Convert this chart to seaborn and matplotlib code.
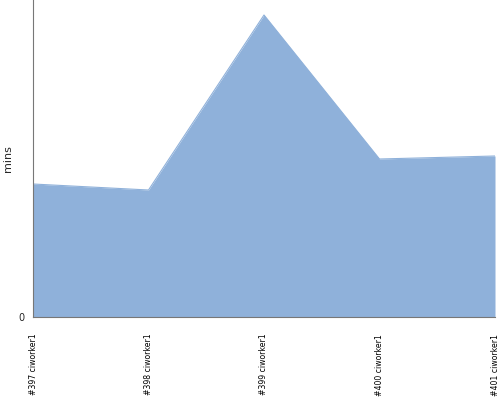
import matplotlib
matplotlib.use("Agg")
import matplotlib.pyplot as plt
import seaborn as sns
import pandas as pd

builds = ["#397 ciworker1", "#398 ciworker1", "#399 ciworker1", "#400 ciworker1", "#401 ciworker1"]
mins = [13.3, 12.7, 30.2, 15.8, 16.1]

sns.set_style("white")
plt.rcParams['font.family'] = ['DejaVu Sans']

df = pd.DataFrame({"build": builds, "mins": mins})
x = list(range(len(builds)))

fig = plt.figure(figsize=(5, 4), dpi=100)
ax = fig.add_axes([0.066, 0.2075, 0.924, 0.7925])

sns.lineplot(x=x, y=df["mins"], ax=ax, color="#8fb1da", linewidth=0.8)
ax.fill_between(x, df["mins"], 0, color="#8fb1da", linewidth=0)

ax.set_xlim(0, len(builds) - 1)
ax.set_ylim(0, 31.7)
ax.set_yticks([0])
ax.set_yticklabels(["0"], fontsize=7)
ax.set_xticks(x)
ax.set_xticklabels(builds, rotation=90, fontsize=5.6, color="black")
ax.tick_params(axis="x", length=0, pad=12)
ax.tick_params(axis="y", length=4, width=0.8, color="#777777", pad=2)
ax.set_ylabel("mins", fontsize=8)
ax.set_xlabel("")

for s in ["top", "right"]:
    ax.spines[s].set_visible(False)
for s in ["left", "bottom"]:
    ax.spines[s].set_color("#777777")
    ax.spines[s].set_linewidth(0.8)

fig.savefig("out.png", dpi=100)
